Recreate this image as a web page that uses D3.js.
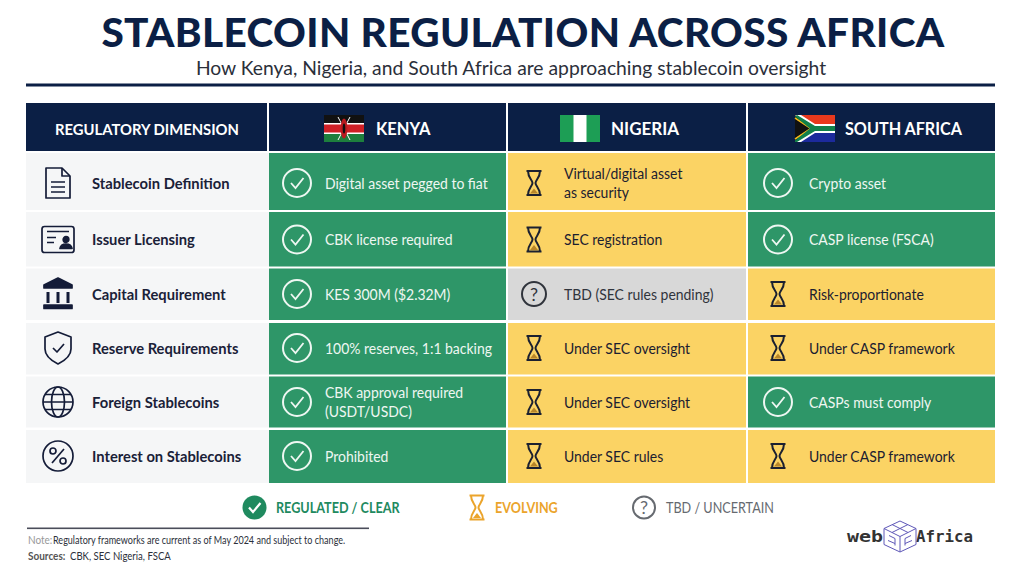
<!DOCTYPE html>
<html>
<head>
<meta charset="utf-8">
<script src="https://cdn.jsdelivr.net/npm/d3@7/dist/d3.min.js"></script>
<style>
html, body { margin: 0; padding: 0; background: #fff; }
svg { display: block; }
text { font-family: Lato, "Noto Sans", sans-serif; }
</style>
</head>
<body>
<div id="chart"></div>
<script>
var dimensions = ["Stablecoin Definition", "Issuer Licensing", "Capital Requirement",
	"Reserve Requirements", "Foreign Stablecoins", "Interest on Stablecoins"];
var dimensionIcons = ["doc", "card", "bank", "shield", "globe", "percent"];
var countries = ["KENYA", "NIGERIA", "SOUTH AFRICA"];

var kenyaText = ["Digital asset pegged to fiat", "CBK license required", "KES 300M ($2.32M)",
	"100% reserves, 1:1 backing", "CBK approval required|(USDT/USDC)", "Prohibited"];
var kenyaStatus = ["clear", "clear", "clear", "clear", "clear", "clear"];

var nigeriaText = ["Virtual/digital asset|as security", "SEC registration", "TBD (SEC rules pending)",
	"Under SEC oversight", "Under SEC oversight", "Under SEC rules"];
var nigeriaStatus = ["evolving", "evolving", "tbd", "evolving", "evolving", "evolving"];

var southAfricaText = ["Crypto asset", "CASP license (FSCA)", "Risk-proportionate",
	"Under CASP framework", "CASPs must comply", "Under CASP framework"];
var southAfricaStatus = ["clear", "clear", "evolving", "evolving", "clear", "evolving"];

var legendLabels = ["REGULATED / CLEAR", "EVOLVING", "TBD / UNCERTAIN"];
var legendStatus = ["clear", "evolving", "tbd"];

var navy = "#0b1f45";
var fills = { clear: "#2e9668", evolving: "#fbd364", tbd: "#d8d8d8" };
var inks = { clear: "#eef7f2", evolving: "#1b2030", tbd: "#30343c" };

var svg = d3.select("#chart").append("svg")
	.attr("width", 1024)
	.attr("height", 576);

// squeeze a text horizontally, the reference type is narrower than Lato
function fit(sel, k){
	sel.each(function(){
		this.setAttribute("textLength", this.getComputedTextLength() * k);
		this.setAttribute("lengthAdjust", "spacingAndGlyphs");
	});
	return sel;
}

// TITLE
svg.append("text")
	.attr("x", 523).attr("y", 46.5)
	.attr("text-anchor", "middle")
	.attr("font-size", 40.5)
	.attr("font-weight", 900)
	.attr("letter-spacing", 0.37)
	.attr("fill", navy)
	.text("STABLECOIN REGULATION ACROSS AFRICA");

fit(svg.append("text")
	.attr("x", 511).attr("y", 75)
	.attr("text-anchor", "middle")
	.attr("font-size", 20)
	.attr("fill", "#2b2f3a")
	.text("How Kenya, Nigeria, and South Africa are approaching stablecoin oversight"), 0.965);

svg.append("rect").attr("x", 26).attr("y", 83.5).attr("width", 969).attr("height", 3).attr("fill", navy);

// TABLE
var colLeft = d3.scaleOrdinal().domain(["dim"].concat(countries)).range([26, 269, 508, 748]);
var colWidth = d3.scaleOrdinal().domain(["dim"].concat(countries)).range([241, 237, 238, 247]);
var rowTop = d3.scaleOrdinal().domain(dimensions).range([153, 212, 268.5, 323, 376.5, 430]);
var rowHeight = d3.scaleOrdinal().domain(dimensions).range([57, 54.5, 51.5, 51.5, 51, 53]);
var rowMid = d3.scaleOrdinal().domain(dimensions).range([30, 27.5, 25.5, 25, 25.5, 26]);

// header
svg.selectAll("rect.head")
	.data(["dim"].concat(countries))
	.join("rect")
	.attr("class", "head")
	.attr("x", function(d){ return colLeft(d); })
	.attr("y", 103)
	.attr("width", function(d){ return colWidth(d); })
	.attr("height", 48)
	.attr("fill", navy);

function headText(x, s, size, k){
	fit(svg.append("text")
		.attr("x", x).attr("y", 134.5)
		.attr("font-size", size)
		.attr("font-weight", 700)
		.attr("fill", "#fff")
		.text(s), k);
}
headText(55, "REGULATORY DIMENSION", 15.5, 0.955);
headText(376, countries[0], 16.5, 1);
headText(611, countries[1], 16.5, 1.03);
headText(845, countries[2], 16.5, 0.98);

function flagBase(x){
	return svg.append("g").attr("transform", "translate(" + x + ",115)");
}
function band(g, y, h, c){
	g.append("rect").attr("y", y).attr("width", 40).attr("height", h).attr("fill", c);
}

// kenya flag
var ke = flagBase(324);
band(ke, 0, 27, "#fff");
band(ke, 0, 8, "#111");
band(ke, 9.5, 8, "#cf1f25");
band(ke, 19, 8, "#1d7f3d");
ke.append("path").attr("d", "M14,2L26,25M26,2L14,25").attr("stroke", "#fff").attr("stroke-width", 1);
ke.append("ellipse").attr("cx", 20).attr("cy", 13.5).attr("rx", 3.4).attr("ry", 10).attr("fill", "#bb1a20");
ke.append("ellipse").attr("cx", 20).attr("cy", 13.5).attr("rx", 1.3).attr("ry", 5).attr("fill", "#111");

// nigeria flag
var ng = flagBase(560);
band(ng, 0, 27, "#1d9e55");
ng.append("rect").attr("x", 13.5).attr("width", 13).attr("height", 27).attr("fill", "#fff");

// south africa flag
var za = flagBase(795);
band(za, 0, 13.5, "#e8391d");
band(za, 13.5, 13.5, "#1c2a9c");
za.append("path").attr("d", "M0,0L20,13.5L0,27Z").attr("fill", "#111");
za.append("path").attr("d", "M0,3L16,13.5L0,24").attr("fill", "none").attr("stroke", "#f4b81c").attr("stroke-width", 1.6);
za.append("path").attr("d", "M0,0L6,0L20,9L40,9L40,18L20,18L6,27L0,27L19,13.5Z").attr("fill", "#fff");
za.append("path").attr("d", "M2,0L20,11L40,11L40,16L20,16L2,27L0,27L0,25.5L15,13.5L0,1.5Z").attr("fill", "#11804a");
za.append("path").attr("d", "M0,4.5L13,13.5L0,22.5Z").attr("fill", "#111");

// first column background + labels
var dimRows = svg.selectAll("g.dim")
	.data(dimensions)
	.join("g")
	.attr("class", "dim")
	.attr("transform", function(d){ return "translate(26," + rowTop(d) + ")"; });

dimRows.append("rect")
	.attr("width", 243)
	.attr("height", function(d){ return rowHeight(d); })
	.attr("fill", "#f5f6f7");

fit(dimRows.append("text")
	.attr("x", 66)
	.attr("y", function(d){ return rowMid(d) + 5.5; })
	.attr("font-size", 15.5)
	.attr("font-weight", 700)
	.attr("fill", "#1a2138")
	.text(function(d){ return d; }), 0.95);

dimRows.each(function(d, i){
	var g = d3.select(this).append("g")
		.attr("transform", "translate(32," + rowMid(d) + ")")
		.attr("fill", "none")
		.attr("stroke", "#141c38")
		.attr("stroke-width", 1.7)
		.attr("stroke-linejoin", "round");
	drawDimIcon(g, dimensionIcons[i]);
});

function drawDimIcon(g, name){
	if (name == "doc") {
		g.append("path").attr("d", "M-12,-15H4L12,-7V15H-12Z");
		g.append("path").attr("d", "M4,-15V-7H12M-7,-1H7M-7,4H7M-7,9H7");
	} else if (name == "card") {
		g.append("rect").attr("x", -16).attr("y", -13).attr("width", 32).attr("height", 26).attr("rx", 2.5);
		g.append("path").attr("d", "M-11,-8H11M-11,-2H-2M-11,3H-4");
		g.append("circle").attr("cx", 8).attr("cy", 0).attr("r", 2.8).attr("fill", "#141c38");
		g.append("path").attr("d", "M2,9C3,3 13,3 14,9Z").attr("fill", "#141c38");
	} else if (name == "bank") {
		g.append("path").attr("d", "M-14,-9L0,-16L14,-9V-6H-14Z").attr("fill", "#141c38");
		g.append("path").attr("d", "M-10,-2V9M0,-2V9M10,-2V9").attr("stroke-width", 3);
		g.append("rect").attr("x", -14).attr("y", 11).attr("width", 28).attr("height", 3.5).attr("fill", "#141c38");
	} else if (name == "shield") {
		g.append("path").attr("d", "M0,-16L13,-11V1C13,8 6,13 0,16C-6,13 -13,8 -13,1V-11Z");
		g.append("path").attr("d", "M-5,0L-1,4L6,-4");
	} else if (name == "globe") {
		g.append("circle").attr("r", 15);
		g.append("ellipse").attr("rx", 6.5).attr("ry", 15);
		g.append("path").attr("d", "M-15,0H15M-13,-7.5H13M-13,7.5H13");
	} else if (name == "percent") {
		g.append("circle").attr("r", 15);
		g.append("circle").attr("cx", -5).attr("cy", -5).attr("r", 3);
		g.append("circle").attr("cx", 5).attr("cy", 5).attr("r", 3);
		g.append("path").attr("d", "M6,-7L-6,7");
	}
}

function drawStatusIcon(g, status, r){
	if (status == "clear") {
		g.append("circle").attr("r", r).attr("fill", "none").attr("stroke", "#eef7f2").attr("stroke-width", 2);
		g.append("path").attr("d", "M-6,0L-1.5,5L6.5,-5").attr("fill", "none").attr("stroke", "#eef7f2").attr("stroke-width", 1.8);
	} else if (status == "evolving") {
		drawHourglass(g, "#1b2030", "#b8862a");
	} else {
		drawQuestion(g, r, "#30343c");
	}
}

function drawHourglass(g, ink, sand){
	g.append("path")
		.attr("d", "M-7.5,-12H7.5M-7.5,12H7.5M-6,-12C-6,-5 -1.5,-3 -1.5,0C-1.5,3 -6,5 -6,12M6,-12C6,-5 1.5,-3 1.5,0C1.5,3 6,5 6,12")
		.attr("fill", "none").attr("stroke", ink).attr("stroke-width", 2);
	g.append("path").attr("d", "M-4,10.5L0,5.5L4,10.5Z").attr("fill", sand);
}

function drawQuestion(g, r, ink){
	g.append("circle").attr("r", r).attr("fill", "none").attr("stroke", ink).attr("stroke-width", 2);
	g.append("text").attr("y", 6.5).attr("text-anchor", "middle").attr("font-size", 18).attr("fill", ink).text("?");
}

// status cells
function drawColumn(country, texts, statuses, iconX, textX){
	var cells = svg.selectAll("g.cell-" + country.charAt(0))
		.data(dimensions)
		.join("g")
		.attr("class", "cell-" + country.charAt(0))
		.attr("transform", function(d){ return "translate(" + colLeft(country) + "," + rowTop(d) + ")"; });

	cells.append("rect")
		.attr("width", colWidth(country))
		.attr("height", function(d){ return rowHeight(d); })
		.attr("fill", function(d, i){ return fills[statuses[i]]; });

	cells.each(function(d, i){
		var g = d3.select(this);
		var mid = rowMid(d);
		var icon = g.append("g").attr("transform", "translate(" + iconX + "," + mid + ")");
		drawStatusIcon(icon, statuses[i], statuses[i] == "clear" ? 14 : 12);
		var lines = texts[i].split("|");
		lines.forEach(function(line, k){
			fit(g.append("text")
				.attr("x", textX)
				.attr("y", mid + 5.5 + (k - (lines.length - 1) / 2) * 19)
				.attr("font-size", 15.5)
				.attr("fill", inks[statuses[i]])
				.text(line), 0.9);
		});
	});
}

drawColumn(countries[0], kenyaText, kenyaStatus, 28, 56);
drawColumn(countries[1], nigeriaText, nigeriaStatus, 26, 56);
drawColumn(countries[2], southAfricaText, southAfricaStatus, 30, 61);

// LEGEND
var legendIconX = d3.scaleOrdinal().domain(legendStatus).range([254.5, 477, 644]);
var legendTextX = d3.scaleOrdinal().domain(legendStatus).range([276, 495, 666]);
var legendColor = d3.scaleOrdinal().domain(legendStatus).range(["#1f8a5f", "#eba42b", "#666a70"]);

legendStatus.forEach(function(s, i){
	var g = svg.append("g").attr("transform", "translate(" + legendIconX(s) + ",507.5)");
	if (s == "clear") {
		g.append("circle").attr("r", 12).attr("fill", legendColor(s));
		g.append("path").attr("d", "M-5.5,0L-1.5,4.5L6,-4.5").attr("fill", "none").attr("stroke", "#fff").attr("stroke-width", 2.2);
	} else if (s == "evolving") {
		drawHourglass(g, legendColor(s), legendColor(s));
	} else {
		drawQuestion(g, 11, legendColor(s));
	}
	fit(svg.append("text")
		.attr("x", legendTextX(s)).attr("y", 513)
		.attr("font-size", 14.5)
		.attr("font-weight", s == "tbd" ? 400 : 700)
		.attr("fill", legendColor(s))
		.text(legendLabels[i]), 0.87);
});

// FOOTNOTE
svg.append("rect").attr("x", 27).attr("y", 527.5).attr("width", 342).attr("height", 1.6).attr("fill", "#4a4d5a");

function footText(x, y, s, color, weight, k){
	fit(svg.append("text")
		.attr("x", x).attr("y", y)
		.attr("font-size", 10.5)
		.attr("font-weight", weight)
		.attr("fill", color)
		.text(s), k);
}
footText(28, 544, "Note:", "#999", 400, 0.95);
footText(53, 544, "Regulatory frameworks are current as of May 2024 and subject to change.", "#2b2f3a", 400, 0.86);
footText(28, 560, "Sources:", "#555", 700, 0.95);
footText(70, 560, "CBK, SEC Nigeria, FSCA", "#2b2f3a", 400, 0.91);

// LOGO
svg.append("text")
	.attr("x", 847).attr("y", 542)
	.attr("font-size", 15).attr("font-weight", 700)
	.attr("textLength", 36).attr("lengthAdjust", "spacingAndGlyphs")
	.style("font-family", "'DejaVu Sans Mono', monospace")
	.attr("fill", "#333")
	.text("web");
svg.append("text")
	.attr("x", 916).attr("y", 542)
	.attr("font-size", 15).attr("font-weight", 700)
	.attr("textLength", 57).attr("lengthAdjust", "spacingAndGlyphs")
	.style("font-family", "'DejaVu Sans Mono', monospace")
	.attr("fill", "#333")
	.text("Africa");
var cube = svg.append("g").attr("transform", "translate(900,536.5)")
	.attr("fill", "none").attr("stroke", "#5f58b8").attr("stroke-width", 1);
cube.append("path").attr("d", "M0,-15.5L16,-8V8L0,15.5L-16,8V-8ZM-16,-8L0,0L16,-8M0,0V15.5");
cube.append("path").attr("d", "M-8,-12L8,-4M8,-12L-8,-4M-11,-1L-5,2V9M11,-1L5,2V9M-12,4L-5,7M12,4L5,7");
</script>
</body>
</html>
